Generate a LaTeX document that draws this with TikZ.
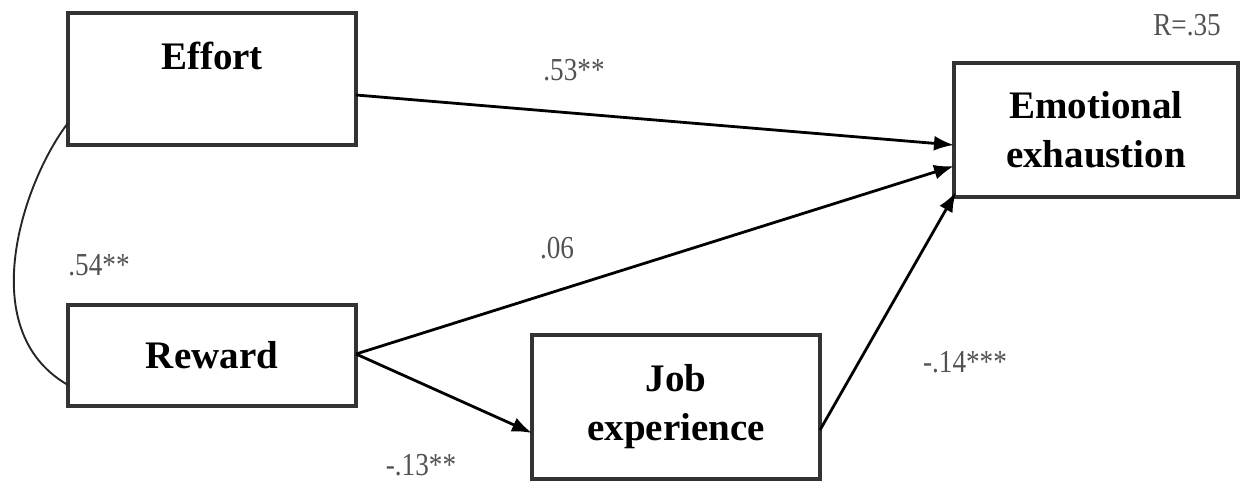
\documentclass[tikz,border=0pt]{standalone}
\usepackage{fontspec}
\setmainfont{Liberation Serif}
\newfontfamily\lblfont[FakeStretch=0.85]{Liberation Serif}
\usetikzlibrary{arrows.meta}
\tikzset{
  box/.style={draw=black!80, line width=3.2pt, fill=white, inner sep=0pt,
    font=\fontsize{39}{49}\selectfont\bfseries, align=center},
  path/.style={draw=black, line width=2.8pt, -{Latex[length=20pt,width=15pt]}},
  corr/.style={draw=black!85, line width=1.9pt},
  lbl/.style={font=\lblfont\fontsize{32}{34}\selectfont, text=black!68, inner sep=0pt},
}
\begin{document}
\begin{tikzpicture}[x=1pt,y=-1pt]
\useasboundingbox (0,0) rectangle (1240,482);
\node[box, minimum width=288pt, minimum height=132pt, text height=27pt, text depth=47pt] (ef) at (212,79) {Effort};
\node[box, minimum width=288pt, minimum height=101pt] (rw) at (212,355.5) {Reward};
\node[box, minimum width=288pt, minimum height=144pt] (job) at (676,407) {Job\\experience};
\node[box, minimum width=284pt, minimum height=134pt] (ee) at (1096,130) {Emotional\\exhaustion};

\coordinate (efA) at (68,123);
\coordinate (rwA) at (68,385);
\draw[corr] (efA) .. controls (24,180) and (-28,330) .. (rwA);

\coordinate (efO) at (356,95);
\coordinate (rwO) at (356,354);
\coordinate (jobIn) at (532,433);
\coordinate (jobO) at (820,430);
\coordinate (eeA) at (954,145);
\coordinate (eeB) at (954,166);
\coordinate (eeC) at (956,192);
\draw[path] (efO) -- (eeA);
\draw[path] (rwO) -- (eeB);
\draw[path] (rwO) -- (jobIn);
\draw[path] (jobO) -- (eeC);

\node[lbl] (l53) at (574,70) {.53**};
\node[lbl] (l06) at (557,248) {.06};
\node[lbl] (l54) at (99,265) {.54**};
\node[lbl] (l14) at (965,362) {-.14***};
\node[lbl] (l13) at (421,465) {-.13**};
\node[lbl] (lR) at (1187,25) {R=.35};
\end{tikzpicture}
\end{document}
